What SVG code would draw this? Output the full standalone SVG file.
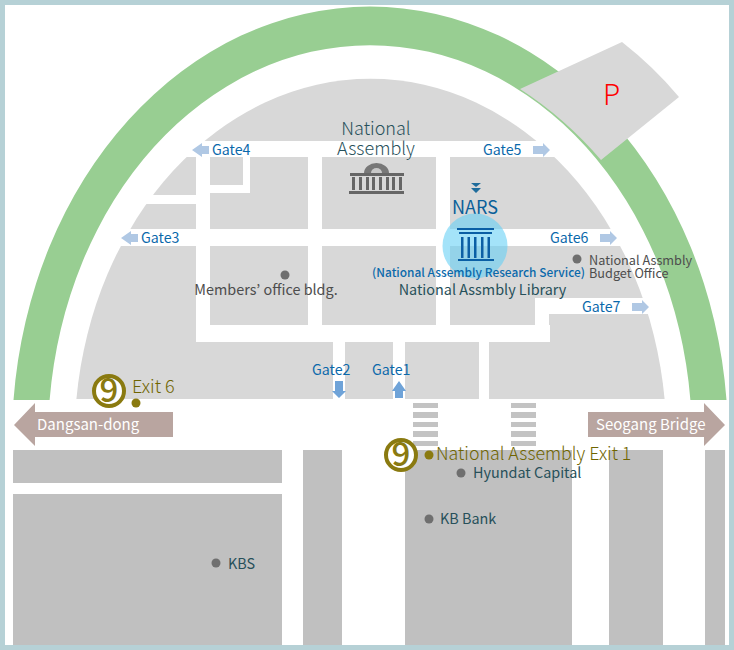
<svg xmlns="http://www.w3.org/2000/svg" width="734" height="650" viewBox="0 0 734 650">
<style>
text{font-family:"Noto Sans CJK KR","Noto Sans",sans-serif;}
.b{fill:#d8d8d8}.r{fill:#fff}.l{fill:#c0c0c0}.z{fill:#c3c3c3}
.gate{font-size:14.200px;fill:#0a69ab}
.ga{fill:#b0c8e4}.gb{fill:#6fa3d8}
.dark{fill:#27505a;font-size:14.400px}
.gr{fill:#4d4d4d}
.exit{fill:#6f6500;font-weight:300}
.pin{fill:#6f6f6f}.ex{fill:#8a7a10}
.ring{fill:#fff;stroke:#8a7a10;stroke-width:4}
.nine{fill:#8a7a10;font-size:33px;font-weight:500;text-anchor:middle}
.road{fill:#b9a5a0}
.rl{fill:#fff;font-size:15px}
</style>
<rect x="2.500" y="2.500" width="729" height="645" fill="#fff" stroke="#b6d1d6" stroke-width="5"/>
<g id="site">
<path d="M13.500 400A358 433 0 0 1 726.500 400H690.400A322 394 0 0 0 49.600 400Z" fill="#98ce92"/>
<path d="M520 89L622 42Q654 67 679 97L601 160Q565 118 520 89Z" class="b"/>
<path d="M76.400 399A296 361 0 0 1 664.600 399Z" class="b"/>
</g>
<g id="roads">
<rect x="175" y="141" width="390" height="16" class="r"/>
<rect x="196" y="141" width="14" height="200" class="r"/>
<rect x="308" y="141" width="14" height="200" class="r"/>
<rect x="436" y="157" width="14" height="184" class="r"/>
<rect x="100" y="229" width="540" height="17" class="r"/>
<rect x="196" y="325" width="354" height="17" class="r"/>
<rect x="535" y="298" width="125" height="16" class="r"/>
<rect x="535" y="298" width="14" height="44" class="r"/>
<rect x="243" y="157" width="7" height="36" class="r"/>
<rect x="210" y="185" width="40" height="8" class="r"/>
<rect x="125" y="195" width="71" height="9" class="r"/>
<rect x="333" y="342" width="12" height="57" class="r"/>
<rect x="393" y="342" width="12" height="57" class="r"/>
<rect x="479" y="342" width="10" height="57" class="r"/>
</g>
<g id="blocks">
<rect x="13" y="450" width="269" height="33" class="l"/>
<rect x="13" y="494" width="269" height="151" class="l"/>
<rect x="303" y="450" width="39" height="195" class="l"/>
<rect x="405" y="450" width="167" height="195" class="l"/>
<rect x="609" y="450" width="54" height="195" class="l"/>
<rect x="705" y="450" width="20" height="195" class="l"/>
</g>
<g id="crossings">
<rect x="413" y="403" width="25" height="5" class="z"/><rect x="413" y="412" width="25" height="6" class="z"/><rect x="413" y="422" width="25" height="5" class="z"/><rect x="413" y="431" width="25" height="6" class="z"/><rect x="413" y="441" width="25" height="5" class="z"/>
<rect x="511" y="403" width="25" height="5" class="z"/><rect x="511" y="412" width="25" height="6" class="z"/><rect x="511" y="422" width="25" height="5" class="z"/><rect x="511" y="431" width="25" height="6" class="z"/><rect x="511" y="441" width="25" height="5" class="z"/>
</g>
<g id="connectors">
<path class="ga" d="M192 150L202 143V146H209V154H202V157Z"/>
<path class="ga" d="M121 238L131 231V234H138V242H131V245Z"/>
<path class="ga" d="M550 150L543 143V146H533V154H543V157Z"/>
<path class="ga" d="M617 238L610 231V234H600V242H610V245Z"/>
<path class="ga" d="M649 307L642 300V303H632V311H642V314Z"/>
<path class="gb" d="M339 398L332 391H335V381H343V391H346Z"/>
<path class="gb" d="M399 381L392 391H395V398H403V391H406Z"/>
</g>
<g id="gates">
<text class="gate" x="212" y="155">Gate4</text>
<text class="gate" x="141" y="243">Gate3</text>
<text class="gate" x="483" y="155">Gate5</text>
<text class="gate" x="550" y="243">Gate6</text>
<text class="gate" x="582" y="312">Gate7</text>
<text class="gate" x="312" y="375">Gate2</text>
<text class="gate" x="372" y="375">Gate1</text>
</g>
<g id="parking"><text x="603" y="105" font-size="28" fill="#f00" font-weight="300">P</text></g>
<g id="assembly">
<text x="376" y="135" text-anchor="middle" font-size="18" fill="#27505a" font-weight="300">National</text>
<text x="376" y="155" text-anchor="middle" font-size="18" fill="#27505a" font-weight="300">Assembly</text>
<path d="M364 173A12.500 10 0 0 1 389 173Z" fill="#777"/>
<path d="M371 173A5.500 5 0 0 1 382 173Z" fill="#c8c8c8"/>
<g fill="#666"><rect x="350" y="173" width="54" height="3"/><rect x="352" y="177" width="3" height="13"/><rect x="359" y="177" width="3" height="13"/><rect x="366" y="177" width="3" height="13"/><rect x="372" y="177" width="3" height="13"/><rect x="379" y="177" width="3" height="13"/><rect x="386" y="177" width="3" height="13"/><rect x="392" y="177" width="3" height="13"/><rect x="399" y="177" width="3" height="13"/><rect x="349" y="191" width="55" height="3"/></g>
</g>
<g id="nars">
<path d="M471 183H481L476 187ZM471 188H481L476 193Z" fill="#1f6c9c"/>
<text x="475" y="214" text-anchor="middle" font-size="18" fill="#0a5f99">NARS</text>
<circle cx="475" cy="246" r="32.500" fill="#67d0f5" fill-opacity=".6"/>
<g fill="#0a5fa5"><rect x="457" y="228" width="37" height="2"/><rect x="459" y="232" width="33" height="2"/><rect x="461" y="237" width="2.500" height="21"/><rect x="467.500" y="237" width="2.500" height="21"/><rect x="474" y="237" width="2.500" height="21"/><rect x="481" y="237" width="2.500" height="21"/><rect x="487.500" y="237" width="2.500" height="21"/><rect x="458" y="259" width="36" height="2"/></g>
<text x="478.500" y="277" text-anchor="middle" font-size="11.900px" font-weight="500" fill="#0a69ab">(National Assembly Research Service)</text>
</g>
<g id="library"><text x="482.500" y="295" text-anchor="middle" class="dark">National Assmbly Library</text></g>
<g id="members"><circle cx="285" cy="275" r="4.500" class="pin"/><text x="266" y="295" text-anchor="middle" font-size="14.400px" class="gr">Members’ office bldg.</text></g>
<g id="budget"><circle cx="577" cy="259" r="4.500" class="pin"/>
<text x="589" y="265" font-size="12.700px" class="gr">National Assmbly</text><text x="589" y="278" font-size="12.700px" class="gr">Budget Office</text></g>
<g id="dangsan"><path class="road" d="M14 425L35 403V412H173V437H35V446Z"/><text x="37" y="430" class="rl">Dangsan-dong</text></g>
<g id="seogang"><path class="road" d="M725 425L704 403V412H588V437H704V446Z"/><text x="596" y="430" class="rl">Seogang Bridge</text></g>
<g id="exit6"><circle cx="109" cy="391" r="15" class="ring"/><text x="109" y="402" class="nine">9</text><circle cx="136" cy="403" r="4.500" class="ex"/><text x="132" y="393" font-size="18" class="exit">Exit 6</text></g>
<g id="exit1"><circle cx="401" cy="455" r="15" class="ring"/><text x="401" y="466" class="nine">9</text><circle cx="429" cy="455" r="4.500" class="ex"/><text x="436" y="460" font-size="17.800px" class="exit">National Assembly Exit 1</text></g>
<g id="hyundai"><circle cx="461" cy="473" r="4.500" class="pin"/><text x="473" y="478" class="dark">Hyundat Capital</text></g>
<g id="kbbank"><circle cx="429" cy="519" r="4.500" class="pin"/><text x="440" y="524" class="dark">KB Bank</text></g>
<g id="kbs"><circle cx="216" cy="563" r="4.500" class="pin"/><text x="228" y="569" class="dark">KBS</text></g>
</svg>
